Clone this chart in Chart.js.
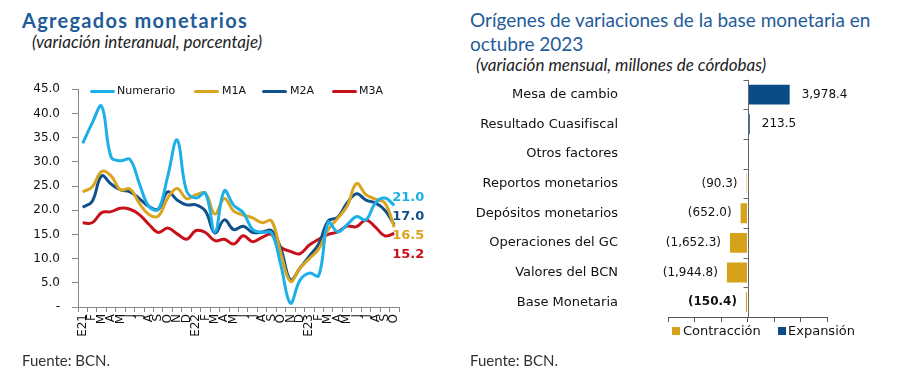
<!DOCTYPE html>
<html lang="es">
<head>
<meta charset="UTF-8">
<title>Agregados monetarios y base monetaria</title>
<style>
    body {
        margin: 0;
        width: 917px;
        height: 389px;
        background: #fff;
        font-family: Lato, sans-serif;
        position: relative;
        overflow: hidden;
    }
    .title {
        position: absolute;
        color: #1F5C99;
        font-size: 19px;
        line-height: 24px;
    }
    .sub {
        position: absolute;
        font-style: italic;
        font-size: 17px;
        color: #222;
    }
    .src {
        position: absolute;
        font-size: 15px;
        color: #333;
    }
    canvas { position: absolute; }
    .leg {
        position: absolute;
        font-family: "DejaVu Sans", sans-serif;
        color: #111;
        white-space: nowrap;
        line-height: 14px;
    }
    .leg .ln {
        position: absolute;
        top: 6px;
        width: 25px;
        height: 3px;
        border-radius: 1.5px;
    }
    .leg .box {
        position: absolute;
        top: 3px;
        width: 8px;
        height: 8px;
    }
</style>
</head>
<body>
<div class="title" style="left:22px; top:8px; font-weight:bold; font-size:20px; letter-spacing:1.3px;">Agregados monetarios</div>
<div class="sub" style="left:32px; top:31px;">(variación interanual, porcentaje)</div>

<div class="title" style="left:470px; top:8px;">Orígenes de variaciones de la base monetaria en<br>octubre 2023</div>
<div class="sub" style="left:476px; top:54px;">(variación mensual, millones de córdobas)</div>

<canvas id="agregados" width="420" height="285" style="left:20px; top:70px;"></canvas>
<canvas id="origenes" width="440" height="265" style="left:460px; top:70px;"></canvas>

<div class="leg" id="leg1" style="left:0; top:84px; font-size:11px;">
    <span class="ln" style="left:90px; background:#1DB0E8"></span><span style="position:absolute; left:117px">Numerario</span>
    <span class="ln" style="left:194px; background:#D9A520"></span><span style="position:absolute; left:222px">M1A</span>
    <span class="ln" style="left:262px; background:#11508A"></span><span style="position:absolute; left:290px">M2A</span>
    <span class="ln" style="left:332px; background:#C8101A"></span><span style="position:absolute; left:359px">M3A</span>
</div>
<div class="leg" id="leg2" style="left:0; top:324px; font-size:13px;">
    <span class="box" style="left:672px; background:#D6A21A"></span><span style="position:absolute; left:683px">Contracción</span>
    <span class="box" style="left:778px; background:#0B4C86"></span><span style="position:absolute; left:788px">Expansión</span>
</div>

<div class="src" style="left:22px; top:351px;">Fuente: BCN.</div>
<div class="src" style="left:470px; top:351px;">Fuente: BCN.</div>

<script src="https://cdn.jsdelivr.net/npm/chart.js"></script>
<script>
// --- agregados monetarios (variación interanual, %) ---
const meses = ['E21','F','M','A','M','J','J','A','S','O','N','D',
               'E22','F','M','A','M','J','J','A','S','O','N','D',
               'E23','F','M','A','M','J','J','A','S','O'];
const numerario = [33.8, 38.0, 41.5, 31.0, 30.2, 30.5, 25.5, 20.8, 20.2, 27.0, 34.5, 24.0,
                   22.5, 23.5, 15.5, 24.0, 21.0, 19.5, 16.0, 15.4, 15.3, 8.5,  0.8,  5.5,
                   7.0,  6.5,  17.5, 15.5, 17.0, 18.7, 18.0, 21.5, 22.5, 21.0];
const m1a = [23.8, 24.8, 28.0, 27.1, 24.2, 24.4, 21.4, 19.1, 18.8, 22.5, 24.5, 22.4,
             23.2, 23.5, 19.2, 22.4, 19.8, 19.0, 18.4, 17.4, 17.8, 11.0, 5.3,  8.0,
             10.0, 12.0, 16.0, 18.3, 20.8, 25.5, 23.2, 22.3, 21.5, 16.5];
const m2a = [20.6, 21.8, 27.1, 25.4, 24.2, 23.8, 22.4, 20.8, 20.2, 23.8, 22.1, 21.1,
             21.1, 19.8, 15.3, 18.0, 16.0, 16.7, 15.4, 15.5, 15.8, 12.0, 5.6,  8.0,
             10.5, 13.0, 17.8, 18.5, 21.5, 23.4, 22.1, 21.5, 20.0, 17.0];
const m3a = [17.4, 17.4, 19.5, 19.7, 20.4, 20.2, 19.1, 17.1, 15.4, 16.3, 15.1, 14.0,
             15.8, 15.4, 13.7, 14.0, 13.0, 14.7, 13.5, 14.4, 15.0, 12.3, 11.5, 11.0,
             12.8, 14.0, 15.0, 15.5, 16.7, 16.6, 18.0, 16.5, 14.7, 15.2];
const yTicks = [0, 5, 10, 15, 20, 25, 30, 35, 40, 45];

// --- orígenes de variaciones de la base monetaria (millones de córdobas) ---
const origenes = ['Mesa de cambio', 'Resultado Cuasifiscal', 'Otros factores', 'Reportos monetarios',
                  'Depósitos monetarios', 'Operaciones del GC', 'Valores del BCN', 'Base Monetaria'];
const variacion = [3978.4, 213.5, 0, -90.3, -652.0, -1652.3, -1944.8, -150.4];

const tickFont = { family: 'DejaVu Sans', size: 12 };

// bold value labels at the end of each line
const endLabels = {
    id: 'endLabels',
    afterDatasetsDraw(chart, args, opts) {
        const ctx = chart.ctx;
        ctx.save();
        ctx.font = 'bold 13px "DejaVu Sans"';
        ctx.textAlign = 'left';
        ctx.textBaseline = 'middle';
        chart.data.datasets.forEach((ds, i) => {
            const meta = chart.getDatasetMeta(i);
            const last = meta.data[meta.data.length - 1];
            ctx.fillStyle = ds.borderColor;
            ctx.fillText(ds.data[ds.data.length - 1].toFixed(1), last.x - 2, last.y + opts.dy[i]);
        });
        ctx.restore();
    }
};

new Chart(document.getElementById('agregados'), {
    type: 'line',
    data: {
        labels: meses,
        datasets: [
            { label: 'Numerario', data: numerario, borderColor: '#1DB0E8' },
            { label: 'M1A', data: m1a, borderColor: '#D9A520' },
            { label: 'M2A', data: m2a, borderColor: '#11508A' },
            { label: 'M3A', data: m3a, borderColor: '#C8101A' }
        ]
    },
    options: {
        responsive: false,
        animation: false,
        layout: { padding: { top: 12, right: 41, bottom: 8, left: 0 } },
        elements: {
            line: { borderWidth: 3, tension: 0.4 },
            point: { radius: 0 }
        },
        scales: {
            x: {
                offset: true,
                grid: { drawOnChartArea: false, offset: true, tickLength: 5, color: '#888' },
                border: { color: '#888' },
                ticks: { autoSkip: false, maxRotation: 90, minRotation: 90, padding: 2, color: '#111', font: tickFont },
                afterFit: s => { s.height = 40; }
            },
            y: {
                min: 0,
                max: 45,
                afterBuildTicks: s => { s.ticks = yTicks.map(v => ({ value: v })); },
                grid: { drawOnChartArea: false, tickLength: 6, color: '#888' },
                border: { color: '#888' },
                ticks: {
                    padding: 12,
                    color: '#111',
                    font: tickFont,
                    callback: v => v === 0 ? '-' : v.toFixed(1)
                },
                afterFit: s => { s.width = 58; }
            }
        },
        plugins: {
            legend: { display: false },
            tooltip: { enabled: false },
            endLabels: { dy: [-8, 8.5, -8, 21] }
        }
    },
    plugins: [endLabels]
});

// zero line with category ticks, and value labels
const fmt = v => {
    const s = Math.abs(v).toLocaleString('en-US', { minimumFractionDigits: 1, maximumFractionDigits: 1 });
    return v < 0 ? '(' + s + ')' : s;
};
const barExtras = {
    id: 'barExtras',
    afterDatasetsDraw(chart) {
        const ctx = chart.ctx;
        const xs = chart.scales.x, ys = chart.scales.y;
        const area = chart.chartArea;
        const x0 = Math.round(xs.getPixelForValue(0)) + 0.5;
        ctx.save();
        ctx.strokeStyle = '#666';
        ctx.lineWidth = 1;
        ctx.beginPath();
        ctx.moveTo(x0, area.top);
        ctx.lineTo(x0, area.bottom);
        const n = origenes.length;
        for (let i = 0; i < n; i++) {
            const y = Math.round(area.top + i * (area.bottom - area.top) / n) + 0.5;
            ctx.moveTo(x0 - 5, y);
            ctx.lineTo(x0, y);
        }
        ctx.stroke();

        ctx.fillStyle = '#111';
        ctx.textBaseline = 'middle';
        variacion.forEach((v, i) => {
            if (v === 0) return;
            const y = ys.getPixelForValue(i);
            const xe = xs.getPixelForValue(v);
            ctx.font = (i === n - 1 ? 'bold ' : '') + '12px "DejaVu Sans"';
            if (v > 0) {
                ctx.textAlign = 'left';
                ctx.fillText(fmt(v), xe + 12, y);
            } else {
                ctx.textAlign = 'right';
                ctx.fillText(fmt(v), xe - 9, y);
            }
        });
        ctx.restore();
    }
};

new Chart(document.getElementById('origenes'), {
    type: 'bar',
    data: {
        labels: origenes,
        datasets: [
            { label: 'Contracción', data: variacion.map(v => v < 0 ? v : null), backgroundColor: '#D6A21A' },
            { label: 'Expansión', data: variacion.map(v => v > 0 ? v : null), backgroundColor: '#0B4C86' }
        ]
    },
    options: {
        responsive: false,
        animation: false,
        indexAxis: 'y',
        layout: { padding: { top: 9, right: 73, bottom: 12, left: 0 } },
        datasets: { bar: { grouped: false, categoryPercentage: 1, barPercentage: 0.67 } },
        scales: {
            x: {
                min: -7500,
                max: 7500,
                ticks: { stepSize: 2500, display: false },
                grid: { drawOnChartArea: false, tickLength: 5, color: '#555' },
                border: { color: '#555' },
                afterFit: s => { s.height = 6; }
            },
            y: {
                grid: { drawOnChartArea: false, drawTicks: true, tickLength: 48, color: 'rgba(0,0,0,0)' },
                border: { display: false },
                ticks: { padding: 2, color: '#111', font: { family: 'DejaVu Sans', size: 13 } },
                afterFit: s => { s.width = 208; }
            }
        },
        plugins: {
            legend: { display: false },
            tooltip: { enabled: false }
        }
    },
    plugins: [barExtras]
});
</script>
</body>
</html>
